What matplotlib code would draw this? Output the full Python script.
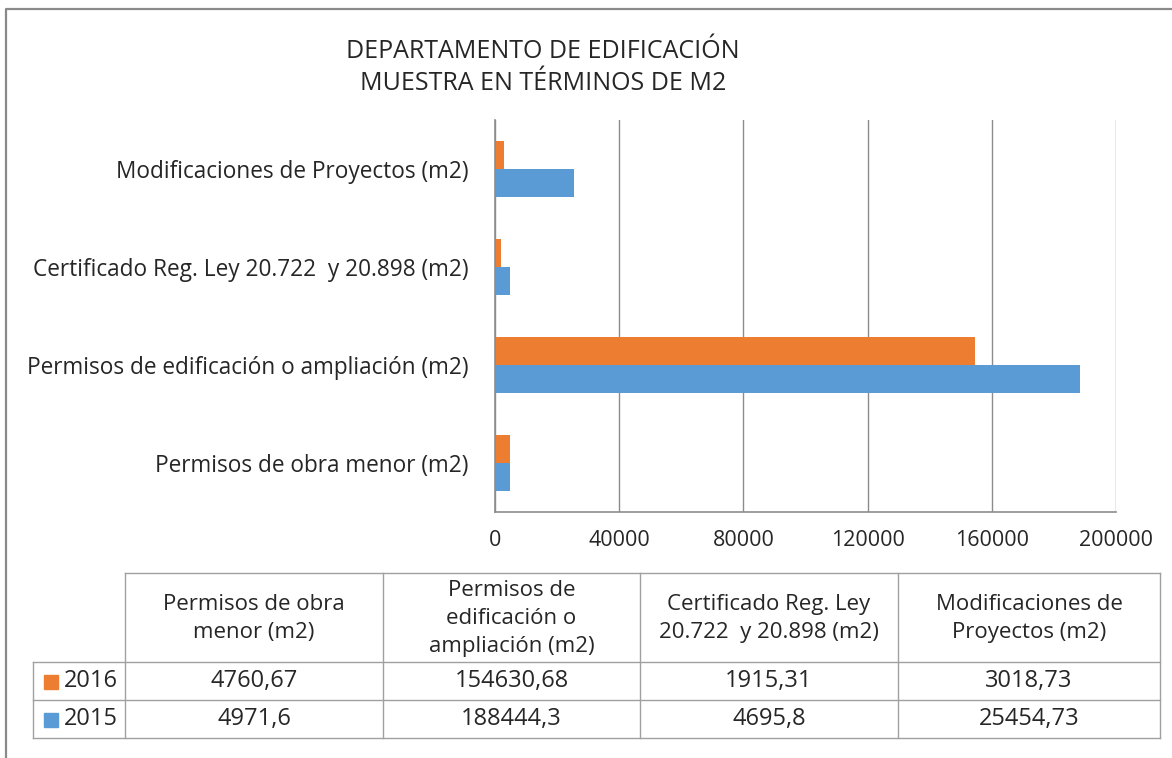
import matplotlib.pyplot as plt
import numpy as np

plt.rcParams['font.family'] = ['Open Sans', 'DejaVu Sans']

# Data
categories = ['Permisos de obra menor (m2)',
              'Permisos de edificación o ampliación (m2)',
              'Certificado Reg. Ley 20.722  y 20.898 (m2)',
              'Modificaciones de Proyectos (m2)']
table_headers = ['Permisos de obra\nmenor (m2)',
                 'Permisos de\nedificación o\nampliación (m2)',
                 'Certificado Reg. Ley\n20.722  y 20.898 (m2)',
                 'Modificaciones de\nProyectos (m2)']
series_names = ['2016', '2015']
values_2016 = [4760.67, 154630.68, 1915.31, 3018.73]
values_2015 = [4971.6, 188444.3, 4695.8, 25454.73]
xticks = [0, 40000, 80000, 120000, 160000, 200000]

orange = '#ED7D31'
blue = '#5B9BD5'
grid_col = '#8C8C8C'
text_col = '#262626'

W, H = 1172, 758
fig = plt.figure(figsize=(W / 100, H / 100), dpi=100)

# bar chart
ax = fig.add_axes([495 / W, 1 - 512 / H, (1116 - 495) / W, (512 - 120) / H])
y = np.arange(len(categories))
bh = 0.286
ax.barh(y + bh / 2, values_2016, height=bh, color=orange, label=series_names[0])
ax.barh(y - bh / 2, values_2015, height=bh, color=blue, label=series_names[1])
ax.set_xlim(0, 200000)
ax.set_ylim(-0.5, len(categories) - 0.5)
ax.set_xticks(xticks)
ax.set_xticklabels([str(t) for t in xticks])
ax.set_yticks(y)
ax.set_yticklabels(categories)
ax.tick_params(axis='both', length=0, colors=text_col)
ax.tick_params(axis='x', pad=13, labelsize=15.5)
ax.tick_params(axis='y', pad=19, labelsize=16.3)
ax.grid(axis='x', color=grid_col, linewidth=1)
ax.set_axisbelow(True)
for s in ['top', 'right']:
    ax.spines[s].set_visible(False)
for s in ['left', 'bottom']:
    ax.spines[s].set_color(grid_col)
    ax.spines[s].set_linewidth(1.2)

fig.text(543 / W, 1 - 51 / H, 'DEPARTAMENTO DE EDIFICACIÓN', ha='center', va='center',
         fontsize=18, color=text_col)
fig.text(543 / W, 1 - 83 / H, 'MUESTRA EN TÉRMINOS DE M2', ha='center', va='center',
         fontsize=18, color=text_col)

# overlay in pixel coords for the data table and chart frame
ov = fig.add_axes([0, 0, 1, 1], zorder=-1)
ov.set_xlim(0, W)
ov.set_ylim(H, 0)
ov.axis('off')

# chart frame (left and top border)
ov.plot([6, 6, W], [H, 9, 9], color='#8A8A8A', linewidth=1.6)

col_x = [33, 125, 383, 640, 898, 1160]
row_y = [573, 662, 700, 738]
lc = '#A0A0A0'
# header row: no border on the empty corner cell
ov.plot([col_x[1], col_x[-1]], [row_y[0], row_y[0]], color=lc, lw=1)
for xx in col_x[1:]:
    ov.plot([xx, xx], [row_y[0], row_y[-1]], color=lc, lw=1)
for yy in row_y[1:]:
    ov.plot([col_x[0], col_x[-1]], [yy, yy], color=lc, lw=1)
ov.plot([col_x[0], col_x[0]], [row_y[1], row_y[-1]], color=lc, lw=1)

for i, hdr in enumerate(table_headers):
    cx = (col_x[i + 1] + col_x[i + 2]) / 2
    ov.text(cx, (row_y[0] + row_y[1]) / 2 + 1, hdr, ha='center', va='center',
            fontsize=16, color=text_col, linespacing=1.42)

rows = [(series_names[0], values_2016, orange), (series_names[1], values_2015, blue)]
for r, (name, vals, col) in enumerate(rows):
    cy = (row_y[r + 1] + row_y[r + 2]) / 2
    ov.add_patch(plt.Rectangle((44, cy - 6), 14, 14, color=col))
    ov.text(64, cy, name, ha='left', va='center', fontsize=17, color=text_col)
    for i, v in enumerate(vals):
        cx = (col_x[i + 1] + col_x[i + 2]) / 2
        ov.text(cx, cy, str(v).replace('.', ','), ha='center', va='center',
                fontsize=17, color=text_col)

fig.savefig('out.png', dpi=100)
